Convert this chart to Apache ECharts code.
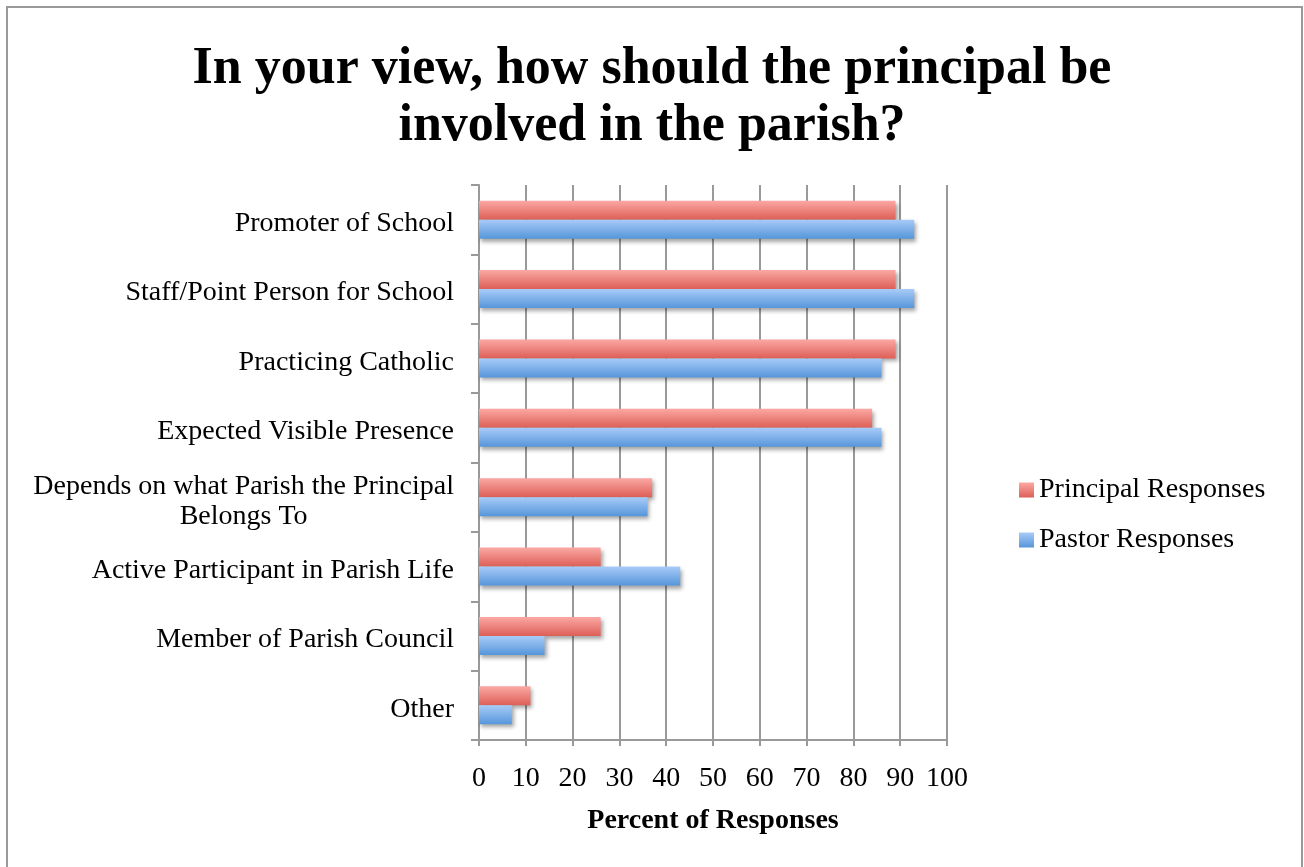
<!DOCTYPE html>
<html>
<head>
<meta charset="utf-8">
<script src="https://cdn.jsdelivr.net/npm/echarts@6/dist/echarts.min.js"></script>
<style>
  html, body { margin: 0; padding: 0; background: #fff; }
  #frame {
    position: absolute; left: 6px; top: 6px; width: 1297px; height: 900px;
    border: 2px solid #999; box-sizing: border-box;
  }
  #chart { position: absolute; left: 0; top: 0; width: 1304px; height: 867px; }
</style>
</head>
<body>
<div id="frame"></div>
<div id="chart"></div>
<script>
const categories = [
  'Promoter of School',
  'Staff/Point Person for School',
  'Practicing Catholic',
  'Expected Visible Presence',
  'Depends on what Parish the Principal\nBelongs To',
  'Active Participant in Parish Life',
  'Member of Parish Council',
  'Other'
];
const principalResponses = [89, 89, 89, 84, 37, 26, 26, 11];
const pastorResponses = [93, 93, 86, 86, 36, 43, 14, 7];
const xTicks = { min: 0, max: 100, interval: 10 };

const fontFamily = '"Liberation Serif", "DejaVu Serif", serif';
const gridColor = '#999999';

function barGradient(top, bottom) {
    return new echarts.graphic.LinearGradient(0, 0, 0, 1, [
        { offset: 0, color: top },
        { offset: 1, color: bottom }
    ]);
}

const chart = echarts.init(document.getElementById('chart'));

const barShadow = {
    shadowBlur: 4,
    shadowOffsetX: 2,
    shadowOffsetY: 3,
    shadowColor: 'rgba(0, 0, 0, 0.35)'
};

const option = {
    backgroundColor: 'transparent',
    animation: false,
    textStyle: { fontFamily: fontFamily, color: '#000' },
    title: {
        text: 'In your view, how should the principal be\ninvolved in the parish?',
        left: 'center',
        top: 36,
        textStyle: {
            fontFamily: fontFamily,
            fontSize: 52,
            fontWeight: 'bold',
            lineHeight: 57,
            color: '#000'
        }
    },
    legend: {
        orient: 'vertical',
        left: 1014,
        top: 471,
        icon: 'rect',
        itemWidth: 15,
        itemHeight: 15,
        itemGap: 22,
        textStyle: { fontFamily: fontFamily, fontSize: 28, color: '#000' },
        data: ['Principal Responses', 'Pastor Responses']
    },
    grid: {
        left: 479,
        right: 357,
        top: 185,
        bottom: 127,
        containLabel: false
    },
    xAxis: {
        type: 'value',
        min: xTicks.min,
        max: xTicks.max,
        interval: xTicks.interval,
        name: 'Percent of Responses',
        nameLocation: 'middle',
        nameGap: 67,
        nameTextStyle: { fontFamily: fontFamily, fontSize: 28, fontWeight: 'bold', color: '#000' },
        axisLine: { show: true, lineStyle: { color: gridColor, width: 2 } },
        axisTick: { show: true, length: 6, lineStyle: { color: gridColor, width: 2 } },
        axisLabel: { fontFamily: fontFamily, fontSize: 28, color: '#000', margin: 25 },
        splitLine: { show: true, lineStyle: { color: gridColor, width: 2 } }
    },
    yAxis: {
        type: 'category',
        inverse: true,
        data: categories,
        axisLine: { show: true, lineStyle: { color: gridColor, width: 2 } },
        axisTick: { show: true, length: 8, lineStyle: { color: gridColor, width: 2 } },
        axisLabel: {
            fontFamily: fontFamily,
            fontSize: 28,
            color: '#000',
            margin: 25,
            lineHeight: 30,
            formatter: (value) => value.split('\n').map(line => '{c|' + line + '}').join('\n'),
            rich: {
                c: { align: 'center', fontFamily: fontFamily, fontSize: 28, color: '#000', lineHeight: 30, padding: [8, 0, 0, 0] }
            }
        }
    },
    series: [
        {
            name: 'Principal Responses',
            type: 'bar',
            data: principalResponses,
            barWidth: 19,
            barGap: '0%',
            itemStyle: Object.assign({ color: barGradient('#fba8a4', '#dd5f57') }, barShadow)
        },
        {
            name: 'Pastor Responses',
            type: 'bar',
            data: pastorResponses,
            barWidth: 19,
            barGap: '0%',
            itemStyle: Object.assign({ color: barGradient('#a8cbf8', '#5696da') }, barShadow)
        }
    ]
};

chart.setOption(option);
window.addEventListener('resize', () => chart.resize());
</script>
</body>
</html>
